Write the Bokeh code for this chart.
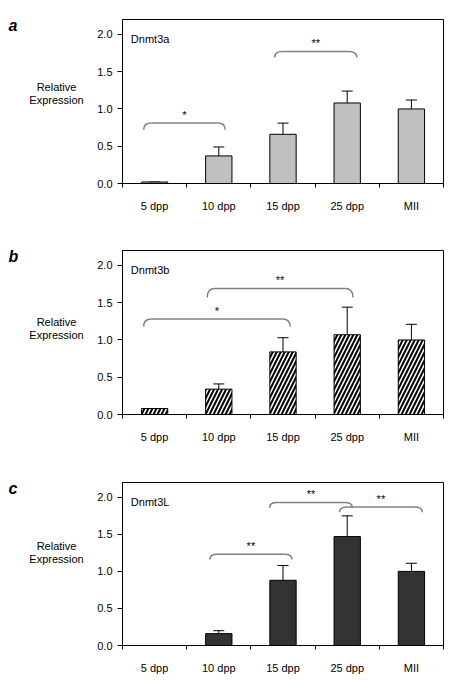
from bokeh.plotting import figure
from bokeh.layouts import column, row
from bokeh.models import (ColumnDataSource, FixedTicker, Range1d, Label, Whisker, TeeHead)
from bokeh.embed import file_html
from bokeh.resources import INLINE

categories = ["5 dpp", "10 dpp", "15 dpp", "25 dpp", "MII"]

dnmt3a_vals = [0.02, 0.37, 0.66, 1.08, 1.00]
dnmt3a_err = [0.00, 0.12, 0.15, 0.16, 0.12]

dnmt3b_vals = [0.08, 0.34, 0.84, 1.07, 1.00]
dnmt3b_err = [0.00, 0.07, 0.19, 0.37, 0.21]

dnmt3l_vals = [0.00, 0.16, 0.88, 1.47, 1.00]
dnmt3l_err = [0.00, 0.04, 0.20, 0.28, 0.11]

# significance brackets: start, end (category units), top, drop, label
br_a_start = [0.33, 2.37]
br_a_end = [1.60, 3.65]
br_a_top = [0.81, 1.77]
br_a_drop = [0.09, 0.08]
br_a_label = ["*", "**"]

br_b_start = [0.33, 1.32]
br_b_end = [2.61, 3.59]
br_b_top = [1.28, 1.69]
br_b_drop = [0.10, 0.12]
br_b_label = ["*", "**"]

br_c_start = [1.36, 2.29, 3.38]
br_c_end = [2.64, 3.58, 4.67]
br_c_top = [1.23, 1.93, 1.87]
br_c_drop = [0.07, 0.07, 0.07]
br_c_label = ["**", "**", "**"]

y_ticks = [0.0, 0.5, 1.0, 1.5, 2.0]

panel_letters = ["a", "b", "c"]
ylabel_lines = ["Relative", "Expression"]

FONT = "Liberation Sans"
LEFT_W = 90


def panel(gene, vals, errs, bstart, bend, btop, bdrop, blabel,
          style, height, top, bottom):
    n = len(categories)
    xs = [i + 0.5 for i in range(n)]
    p = figure(width=453 - LEFT_W, height=height, x_range=Range1d(0, n),
               y_range=Range1d(0, 2.2),
               output_backend="svg", toolbar_location=None,
               min_border_left=122 - LEFT_W, min_border_right=10, min_border_top=top,
               min_border_bottom=bottom)
    p.grid.visible = False
    p.outline_line_color = "black"
    p.outline_line_width = 1
    p.background_fill_color = "white"
    p.border_fill_color = "white"

    src = ColumnDataSource(dict(x=xs, top=vals, upper=[v + e for v, e in zip(vals, errs)]))
    kw = dict(x="x", top="top", bottom=0, width=0.41, source=src,
              line_color="black", line_width=1)
    if style == "grey":
        p.vbar(fill_color="#c0c0c0", **kw)
    elif style == "dark":
        p.vbar(fill_color="#333333", **kw)
    else:
        p.vbar(fill_color="white", hatch_pattern="/", hatch_color="black",
               hatch_scale=8, hatch_weight=2, **kw)

    w = Whisker(base="x", lower="top", upper="upper", source=src,
                line_color="black", line_width=1,
                upper_head=TeeHead(size=11, line_color="black", line_width=1),
                lower_head=None)
    p.add_layout(w)

    # brackets
    dx = 0.12
    for s, e, t, d, lab in zip(bstart, bend, btop, bdrop, blabel):
        p.quadratic(x0=[s, e - dx], y0=[t - d, t], x1=[s + dx, e], y1=[t, t - d],
                    cx=[s, e], cy=[t, t], line_color="#808080", line_width=1.5)
        p.segment(x0=[s + dx], y0=[t], x1=[e - dx], y1=[t],
                  line_color="#808080", line_width=1.5)
        p.text(x=[(s + e) / 2], y=[t + 0.03], text=[lab], text_align="center",
               text_baseline="bottom", text_font_size="11px", text_color="black",
               text_font=dict(value=FONT))

    # axes
    p.xaxis.ticker = FixedTicker(ticks=xs, minor_ticks=list(range(n + 1)))
    p.xaxis.major_label_overrides = {x: c for x, c in zip(xs, categories)}
    p.xaxis.major_tick_out = 0
    p.xaxis.major_tick_in = 0
    p.xaxis.minor_tick_out = 4
    p.xaxis.minor_tick_in = 0
    p.xaxis.major_label_standoff = 12
    p.xaxis.major_label_text_font = FONT
    p.xaxis.major_label_text_font_size = "11px"
    p.xaxis.major_label_text_color = "black"
    p.xaxis.axis_line_color = "black"

    p.yaxis.ticker = FixedTicker(ticks=y_ticks)
    p.yaxis.major_label_overrides = {v: f"{v:.1f}" for v in y_ticks}
    p.yaxis.major_tick_out = 5
    p.yaxis.major_tick_in = 0
    p.yaxis.minor_tick_out = 0
    p.yaxis.minor_tick_in = 0
    p.yaxis.major_label_standoff = 5
    p.yaxis.major_label_text_font = FONT
    p.yaxis.major_label_text_font_size = "11px"
    p.yaxis.major_label_text_color = "black"

    p.add_layout(Label(x=0.13, y=1.94, text=gene, text_font=FONT, text_font_size="11px",
                       text_baseline="middle", text_color="black"))
    return p


pa = panel("Dnmt3a", dnmt3a_vals, dnmt3a_err, br_a_start, br_a_end, br_a_top,
           br_a_drop, br_a_label, "grey", 239, 19, 56)
pb = panel("Dnmt3b", dnmt3b_vals, dnmt3b_err, br_b_start, br_b_end, br_b_top,
           br_b_drop, br_b_label, "hatch", 232, 11, 57)
pc = panel("Dnmt3L", dnmt3l_vals, dnmt3l_err, br_c_start, br_c_end, br_c_top,
           br_c_drop, br_c_label, "dark", 209, 11, 35)

# left strip holding the panel letters and the y-axis titles (pixel-like coordinates)
total_h = 239 + 232 + 209
lf = figure(width=LEFT_W, height=total_h, x_range=Range1d(0, LEFT_W),
            y_range=Range1d(total_h, 0), output_backend="svg", toolbar_location=None,
            min_border=0)
lf.axis.visible = False
lf.grid.visible = False
lf.outline_line_color = None
lf.border_fill_color = "white"

panel_tops = [19, 250, 482]
lf.text(x=[8] * 3, y=[t + 6 for t in panel_tops], text=panel_letters,
        text_font=dict(value=FONT), text_font_size="16px", text_font_style="bold italic",
        text_baseline="middle", text_color="black")
ylab_centers = [92.5, 327.5, 552]
ys = []
txt = []
for c in ylab_centers:
    ys += [c - 6.5, c + 6.5]
    txt += ylabel_lines
lf.text(x=[56] * len(ys), y=ys, text=txt, text_font=dict(value=FONT),
        text_font_size="11px", text_align="center", text_baseline="middle",
        text_color="black")

layout = row(lf, column(pa, pb, pc, spacing=0), spacing=0)
open("out.html", "w").write(file_html(layout, INLINE))
